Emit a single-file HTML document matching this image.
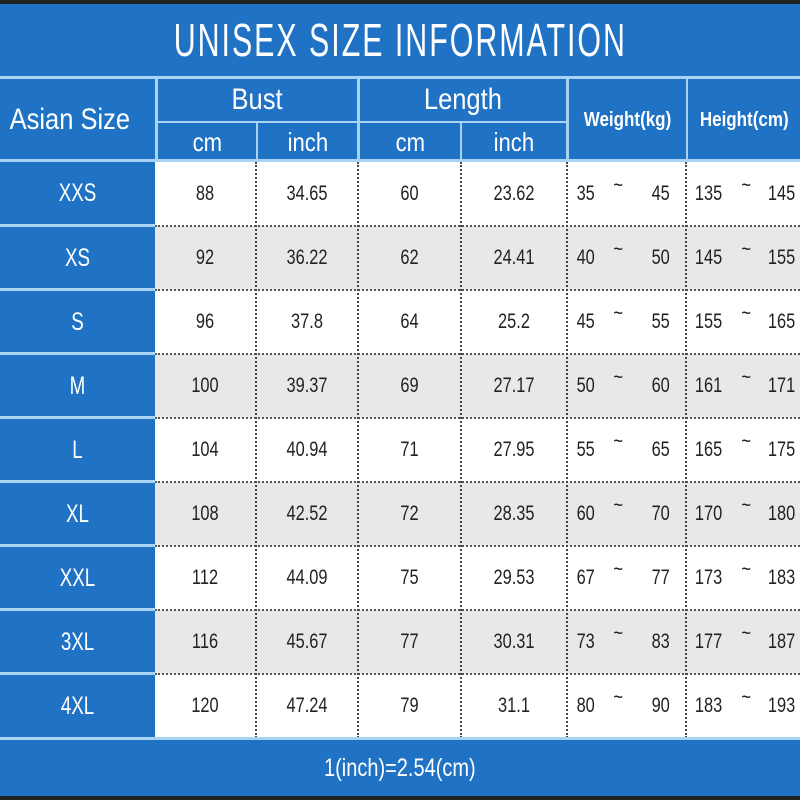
<!DOCTYPE html>
<html><head><meta charset="utf-8"><style>
*{margin:0;padding:0;box-sizing:border-box}
body{width:800px;height:800px;position:relative;overflow:hidden;background:#1f72c4;font-family:"Liberation Sans",sans-serif}
.a{position:absolute}
.t{position:absolute;display:flex;align-items:center;justify-content:center;white-space:nowrap}
.w{color:#fff}
.hl{position:absolute;background:#a9d2f3}
.row{position:absolute;left:155px;width:645px;height:64px}
.d{position:absolute;color:#222;font-size:21px;display:flex;align-items:center;justify-content:center;height:64px;transform:scaleX(0.78)}
.vd{position:absolute;width:0;border-left:2px dotted #444}
.hd{position:absolute;height:0;border-top:2px dotted #555;left:155px;width:645px}
.sz{position:absolute;left:0;width:155px;height:62px;color:#fff;font-size:25px;display:flex;align-items:center;justify-content:center;transform:scaleX(0.75)}
.sep{position:absolute;left:0;width:155px;height:3px;background:#a9d2f3}
</style></head><body>
<div class="a" style="left:0;top:0;width:800px;height:4px;background:#222"></div>
<div class="t w" style="left:0;top:4px;width:800px;height:72px;font-size:46px;letter-spacing:3px"><span style="display:inline-block;transform:scaleX(0.66)">UNISEX SIZE INFORMATION</span></div>
<div class="hl" style="left:0;top:76px;width:800px;height:3px"></div>
<div class="t w" style="left:0;top:79px;width:140px;height:82px;font-size:30px"><span style="display:inline-block;transform:scaleX(0.85)">Asian Size</span></div>
<div class="hl" style="left:155px;top:79px;width:3px;height:82px"></div>
<div class="t w" style="left:158px;top:79px;width:199px;height:42px;font-size:30px"><span style="display:inline-block;transform:scaleX(0.85)">Bust</span></div>
<div class="hl" style="left:357px;top:79px;width:3px;height:82px"></div>
<div class="t w" style="left:360px;top:79px;width:206px;height:42px;font-size:30px"><span style="display:inline-block;transform:scaleX(0.85)">Length</span></div>
<div class="hl" style="left:566px;top:79px;width:3px;height:82px"></div>
<div class="hl" style="left:158px;top:121px;width:408px;height:2px"></div>
<div class="hl" style="left:256px;top:123px;width:2px;height:38px"></div>
<div class="hl" style="left:460px;top:123px;width:2px;height:38px"></div>
<div class="t w" style="left:158px;top:123px;width:98px;height:38px;font-size:26px"><span style="display:inline-block;transform:scaleX(0.85)">cm</span></div>
<div class="t w" style="left:258px;top:123px;width:99px;height:38px;font-size:26px"><span style="display:inline-block;transform:scaleX(0.85)">inch</span></div>
<div class="t w" style="left:360px;top:123px;width:100px;height:38px;font-size:26px"><span style="display:inline-block;transform:scaleX(0.85)">cm</span></div>
<div class="t w" style="left:462px;top:123px;width:104px;height:38px;font-size:26px"><span style="display:inline-block;transform:scaleX(0.85)">inch</span></div>
<div class="t w" style="left:569px;top:79px;width:117px;height:82px;font-size:20px;font-weight:bold"><span style="display:inline-block;transform:scaleX(0.85)">Weight(kg)</span></div>
<div class="hl" style="left:686px;top:79px;width:2px;height:82px"></div>
<div class="t w" style="left:688px;top:79px;width:112px;height:82px;font-size:20px;font-weight:bold"><span style="display:inline-block;transform:scaleX(0.85)">Height(cm)</span></div>
<div class="hl" style="left:0;top:159px;width:800px;height:3px"></div>

<div class="row" style="top:162px;background:#fff"></div>
<div class="row" style="top:226px;background:#e9e7e8"></div>
<div class="row" style="top:290px;background:#fff"></div>
<div class="row" style="top:354px;background:#e9e7e8"></div>
<div class="row" style="top:418px;background:#fff"></div>
<div class="row" style="top:482px;background:#e9e7e8"></div>
<div class="row" style="top:546px;background:#fff"></div>
<div class="row" style="top:610px;background:#e9e7e8"></div>
<div class="row" style="top:674px;background:#fff;height:64px"></div>

<div class="hd" style="top:225px"></div><div class="hd" style="top:289px"></div><div class="hd" style="top:353px"></div><div class="hd" style="top:417px"></div><div class="hd" style="top:481px"></div><div class="hd" style="top:545px"></div><div class="hd" style="top:609px"></div><div class="hd" style="top:673px"></div>
<div class="sep" style="top:224px"></div><div class="sep" style="top:288px"></div><div class="sep" style="top:352px"></div><div class="sep" style="top:416px"></div><div class="sep" style="top:480px"></div><div class="sep" style="top:544px"></div><div class="sep" style="top:608px"></div><div class="sep" style="top:672px"></div>
<div class="vd" style="left:255px;top:162px;height:576px"></div>
<div class="vd" style="left:357px;top:162px;height:576px"></div>
<div class="vd" style="left:460px;top:162px;height:576px"></div>
<div class="vd" style="left:566px;top:162px;height:576px"></div>
<div class="vd" style="left:685px;top:162px;height:576px"></div>

<div class="sz" style="top:162px">XXS</div>
<div class="sz" style="top:227px">XS</div>
<div class="sz" style="top:291px">S</div>
<div class="sz" style="top:355px">M</div>
<div class="sz" style="top:419px">L</div>
<div class="sz" style="top:483px">XL</div>
<div class="sz" style="top:547px">XXL</div>
<div class="sz" style="top:611px">3XL</div>
<div class="sz" style="top:675px">4XL</div>

<div style="position:absolute;left:0;top:162px">
<div class="d" style="left:155px;width:100px;top:0">88</div><div class="d" style="left:257px;width:100px;top:0">34.65</div><div class="d" style="left:359px;width:101px;top:0">60</div><div class="d" style="left:462px;width:104px;top:0">23.62</div>
<div class="d" style="left:155px;width:100px;top:64px">92</div><div class="d" style="left:257px;width:100px;top:64px">36.22</div><div class="d" style="left:359px;width:101px;top:64px">62</div><div class="d" style="left:462px;width:104px;top:64px">24.41</div>
<div class="d" style="left:155px;width:100px;top:128px">96</div><div class="d" style="left:257px;width:100px;top:128px">37.8</div><div class="d" style="left:359px;width:101px;top:128px">64</div><div class="d" style="left:462px;width:104px;top:128px">25.2</div>
<div class="d" style="left:155px;width:100px;top:192px">100</div><div class="d" style="left:257px;width:100px;top:192px">39.37</div><div class="d" style="left:359px;width:101px;top:192px">69</div><div class="d" style="left:462px;width:104px;top:192px">27.17</div>
<div class="d" style="left:155px;width:100px;top:256px">104</div><div class="d" style="left:257px;width:100px;top:256px">40.94</div><div class="d" style="left:359px;width:101px;top:256px">71</div><div class="d" style="left:462px;width:104px;top:256px">27.95</div>
<div class="d" style="left:155px;width:100px;top:320px">108</div><div class="d" style="left:257px;width:100px;top:320px">42.52</div><div class="d" style="left:359px;width:101px;top:320px">72</div><div class="d" style="left:462px;width:104px;top:320px">28.35</div>
<div class="d" style="left:155px;width:100px;top:384px">112</div><div class="d" style="left:257px;width:100px;top:384px">44.09</div><div class="d" style="left:359px;width:101px;top:384px">75</div><div class="d" style="left:462px;width:104px;top:384px">29.53</div>
<div class="d" style="left:155px;width:100px;top:448px">116</div><div class="d" style="left:257px;width:100px;top:448px">45.67</div><div class="d" style="left:359px;width:101px;top:448px">77</div><div class="d" style="left:462px;width:104px;top:448px">30.31</div>
<div class="d" style="left:155px;width:100px;top:512px">120</div><div class="d" style="left:257px;width:100px;top:512px">47.24</div><div class="d" style="left:359px;width:101px;top:512px">79</div><div class="d" style="left:462px;width:104px;top:512px">31.1</div>

<div class="d" style="left:574px;top:0">35</div><div class="d" style="left:612px;top:-8px">~</div><div class="d" style="left:649px;top:0">45</div>
<div class="d" style="left:574px;top:64px">40</div><div class="d" style="left:612px;top:56px">~</div><div class="d" style="left:649px;top:64px">50</div>
<div class="d" style="left:574px;top:128px">45</div><div class="d" style="left:612px;top:120px">~</div><div class="d" style="left:649px;top:128px">55</div>
<div class="d" style="left:574px;top:192px">50</div><div class="d" style="left:612px;top:184px">~</div><div class="d" style="left:649px;top:192px">60</div>
<div class="d" style="left:574px;top:256px">55</div><div class="d" style="left:612px;top:248px">~</div><div class="d" style="left:649px;top:256px">65</div>
<div class="d" style="left:574px;top:320px">60</div><div class="d" style="left:612px;top:312px">~</div><div class="d" style="left:649px;top:320px">70</div>
<div class="d" style="left:574px;top:384px">67</div><div class="d" style="left:612px;top:376px">~</div><div class="d" style="left:649px;top:384px">77</div>
<div class="d" style="left:574px;top:448px">73</div><div class="d" style="left:612px;top:440px">~</div><div class="d" style="left:649px;top:448px">83</div>
<div class="d" style="left:574px;top:512px">80</div><div class="d" style="left:612px;top:504px">~</div><div class="d" style="left:649px;top:512px">90</div>

<div class="d" style="left:691px;top:0">135</div><div class="d" style="left:740px;top:-8px">~</div><div class="d" style="left:764px;top:0">145</div>
<div class="d" style="left:691px;top:64px">145</div><div class="d" style="left:740px;top:56px">~</div><div class="d" style="left:764px;top:64px">155</div>
<div class="d" style="left:691px;top:128px">155</div><div class="d" style="left:740px;top:120px">~</div><div class="d" style="left:764px;top:128px">165</div>
<div class="d" style="left:691px;top:192px">161</div><div class="d" style="left:740px;top:184px">~</div><div class="d" style="left:764px;top:192px">171</div>
<div class="d" style="left:691px;top:256px">165</div><div class="d" style="left:740px;top:248px">~</div><div class="d" style="left:764px;top:256px">175</div>
<div class="d" style="left:691px;top:320px">170</div><div class="d" style="left:740px;top:312px">~</div><div class="d" style="left:764px;top:320px">180</div>
<div class="d" style="left:691px;top:384px">173</div><div class="d" style="left:740px;top:376px">~</div><div class="d" style="left:764px;top:384px">183</div>
<div class="d" style="left:691px;top:448px">177</div><div class="d" style="left:740px;top:440px">~</div><div class="d" style="left:764px;top:448px">187</div>
<div class="d" style="left:691px;top:512px">183</div><div class="d" style="left:740px;top:504px">~</div><div class="d" style="left:764px;top:512px">193</div>
</div>

<div class="hl" style="left:0;top:737px;width:800px;height:3px"></div>
<div class="t w" style="left:0;top:740px;width:800px;height:56px;font-size:25px"><span style="display:inline-block;transform:scaleX(0.8)">1(inch)=2.54(cm)</span></div>
<div class="a" style="left:0;top:796px;width:800px;height:4px;background:#222"></div>
</body></html>
